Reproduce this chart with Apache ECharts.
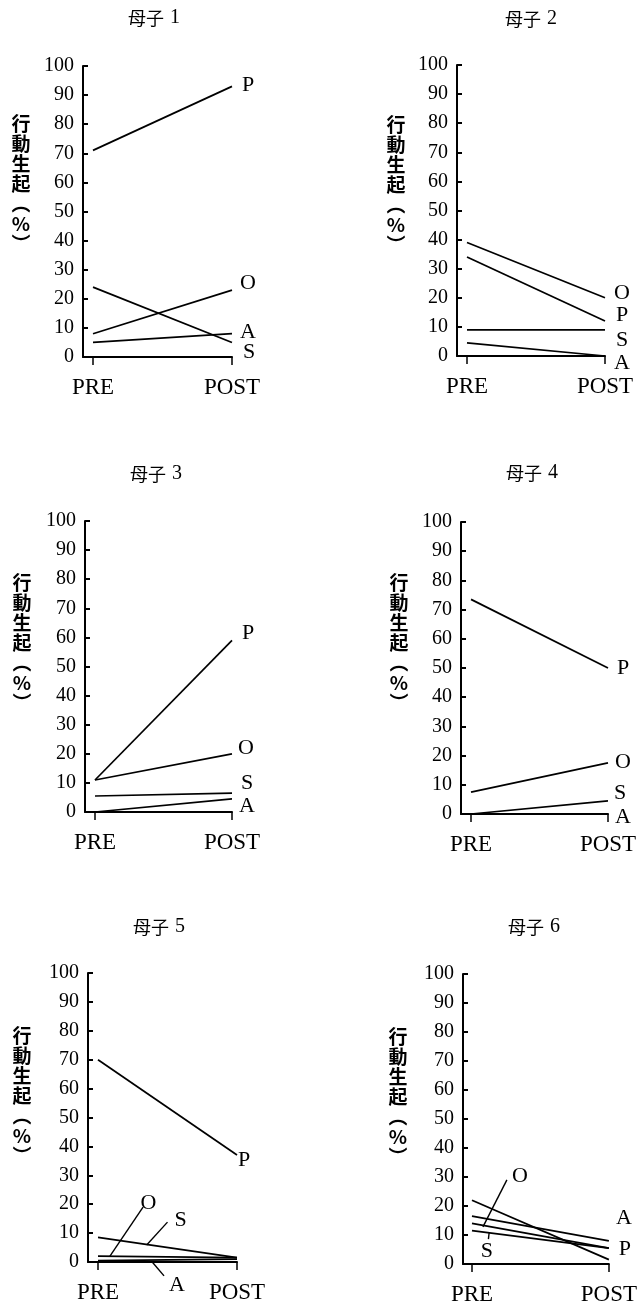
<!DOCTYPE html>
<html><head><meta charset="utf-8">
<script src="https://cdn.jsdelivr.net/npm/echarts@6/dist/echarts.min.js"></script>
<style>html,body{margin:0;padding:0;background:#fff}#c{width:640px;height:1306px}</style>
</head><body><div id="c"></div>
<script>
// ---------- data ----------
const categories = ['PRE', 'POST'];
const panelTitles = ['母子 1', '母子 2', '母子 3', '母子 4', '母子 5', '母子 6'];
const yAxisNameChars = ['行', '動', '生', '起', '︵', '%', '︶']; // 行動生起（%）
const yMin = 0, yMax = 100, yInterval = 10;

const mother1 = { P: [71, 93], O: [8, 23], A: [5, 8], S: [24, 5] };
const mother2 = { O: [39, 20], P: [34, 12], S: [9, 9], A: [4.5, 0] };
const mother3 = { P: [11, 59], O: [11, 20], S: [5.5, 6.5], A: [0, 4.5] };
const mother4 = { P: [73.5, 50], O: [7.5, 17.5], S: [0, 4.5], A: [0, 0] };
const mother5 = { P: [70, 37], S: [8.5, 1.5], O: [2, 1.5], A: [0.5, 1] };
const mother6 = { P: [22, 1.5], A: [16.5, 8], O: [14, 5.5], S: [11.5, 5.5] };
const mothers = [mother1, mother2, mother3, mother4, mother5, mother6];

// leader lines (annotation, in axis units: x 0=PRE,1=POST)
const leaders5 = { O: [[0.086, 2], [0.324, 19]], S: [[0.35, 5.9], [0.50, 13.8]], A: [[0.39, 0], [0.475, -4.8]] };
const leaders6 = { O: [[0.08, 12.8], [0.255, 29]], S: [[0.125, 10.7], [0.12, 8.6]] };
const leaders = [null, null, null, null, leaders5, leaders6];

// ---------- layout / style ----------
const layout = [
  { left: 83,  pre: 93,  post: 232, top: 66,  bottom: 357,  tx: 154, ty: 18,  nx: 21,  ny: 124 },
  { left: 457, pre: 467, post: 605, top: 65,  bottom: 356,  tx: 531, ty: 19,  nx: 396, ny: 125 },
  { left: 85,  pre: 95,  post: 232, top: 521, bottom: 812,  tx: 156, ty: 474, nx: 22,  ny: 583 },
  { left: 461, pre: 471, post: 608, top: 522, bottom: 814,  tx: 532, ty: 473, nx: 399, ny: 583 },
  { left: 88,  pre: 98,  post: 237, top: 973, bottom: 1262, tx: 159, ty: 927, nx: 22,  ny: 1036 },
  { left: 463, pre: 472, post: 609, top: 974, bottom: 1264, tx: 534, ty: 927, nx: 398, ny: 1037 }
];
const endLabelOffsets = [
  { P: [16, -1], O: [16, -7], A: [16, -2], S: [17, 10] },
  { O: [17, -5], P: [17, -6], S: [17, 10], A: [17, 7] },
  { P: [16, -7], O: [14, -6], S: [15, -10], A: [15, 7] },
  { P: [15, 0], O: [15, -1], S: [12, -8], A: [15, 3] },
  { P: [7, 5] },
  { A: [15, -23], P: [16, -10] }
];
const leaderLabelOffsets = [null, null, null, null,
  { O: [5.5, -3.5], S: [13, -2], A: [13, 9] },
  { O: [13, -3.5], S: [-1.5, 12] }
];

const SERIF = "'Liberation Serif', 'Times New Roman', serif";
const CJK = "'Noto Sans CJK JP', sans-serif";

const grids = [], xAxes = [], yAxes = [], series = [], graphics = [];

layout.forEach((L, i) => {
  grids.push({ left: L.left, top: L.top, width: L.post - L.left, height: L.bottom - L.top });
  xAxes.push({
    type: 'value', gridIndex: i,
    min: -(L.pre - L.left) / (L.post - L.pre), max: 1,
    axisLine: { show: true, onZero: false, lineStyle: { color: '#000', width: 2 } },
    axisTick: { show: true, customValues: [0, 1], length: 8, inside: false, lineStyle: { color: '#000', width: 1.5 } },
    axisLabel: { show: true, customValues: [0, 1], formatter: v => categories[Math.round(v)],
      margin: 19, color: '#000', fontFamily: SERIF, fontSize: 23 },
    splitLine: { show: false }
  });
  yAxes.push({
    type: 'value', gridIndex: i, min: yMin, max: yMax, interval: yInterval,
    axisLine: { show: true, onZero: false, lineStyle: { color: '#000', width: 2 } },
    axisTick: { show: true, inside: true, length: 5, lineStyle: { color: '#000', width: 2 } },
    axisLabel: { show: true, margin: 9, color: '#000', fontFamily: SERIF, fontSize: 20 },
    splitLine: { show: false }
  });

  const m = mothers[i];
  Object.keys(m).forEach(letter => {
    const off = endLabelOffsets[i][letter];
    series.push({
      type: 'line', xAxisIndex: i, yAxisIndex: i, name: 'm' + (i + 1) + letter,
      data: m[letter].map((v, k) => [k, v]),
      symbol: 'circle', symbolSize: 0, clip: false, silent: true, animation: false,
      lineStyle: { color: '#000', width: 1.7 }, itemStyle: { color: '#000' },
      label: {
        show: !!off, position: 'inside', offset: off || [0, 0],
        formatter: p => (p.dataIndex === 1 ? letter : ''),
        color: '#000', fontFamily: SERIF, fontSize: 22
      }
    });
  });

  const ld = leaders[i];
  if (ld) {
    Object.keys(ld).forEach(letter => {
      series.push({
        type: 'line', xAxisIndex: i, yAxisIndex: i, name: 'lead' + (i + 1) + letter,
        data: ld[letter],
        symbol: 'circle', symbolSize: 0, clip: false, silent: true, animation: false,
        lineStyle: { color: '#000', width: 1.4 }, itemStyle: { color: '#000' },
        label: {
          show: true, position: 'inside', offset: leaderLabelOffsets[i][letter],
          formatter: p => (p.dataIndex === 1 ? letter : ''),
          color: '#000', fontFamily: SERIF, fontSize: 22
        }
      });
    });
  }

  const parts = panelTitles[i].split(' ');
  graphics.push({
    type: 'text', x: L.tx, y: L.ty, silent: true,
    style: {
      text: '{c|' + parts[0] + '}{n|' + parts[1] + '}',
      rich: {
        c: { fontFamily: CJK, fontSize: 18, fill: '#000' },
        n: { fontFamily: SERIF, fontSize: 20, fill: '#000', padding: [0, 0, 0, 6] }
      },
      align: 'center', verticalAlign: 'middle', fill: '#000'
    }
  });
  graphics.push({
    type: 'text', x: L.nx, y: L.ny - 10, silent: true,
    style: {
      text: yAxisNameChars.join('\n'), fontFamily: CJK, fontSize: 19, lineHeight: 20,
      fontWeight: 'bold',
      align: 'center', verticalAlign: 'top', fill: '#000'
    }
  });
});

const chart = echarts.init(document.getElementById('c'), null, { renderer: 'canvas', width: 640, height: 1306 });
chart.setOption({
  backgroundColor: '#fff',
  animation: false,
  grid: grids, xAxis: xAxes, yAxis: yAxes, series: series,
  graphic: graphics
});
</script></body></html>
